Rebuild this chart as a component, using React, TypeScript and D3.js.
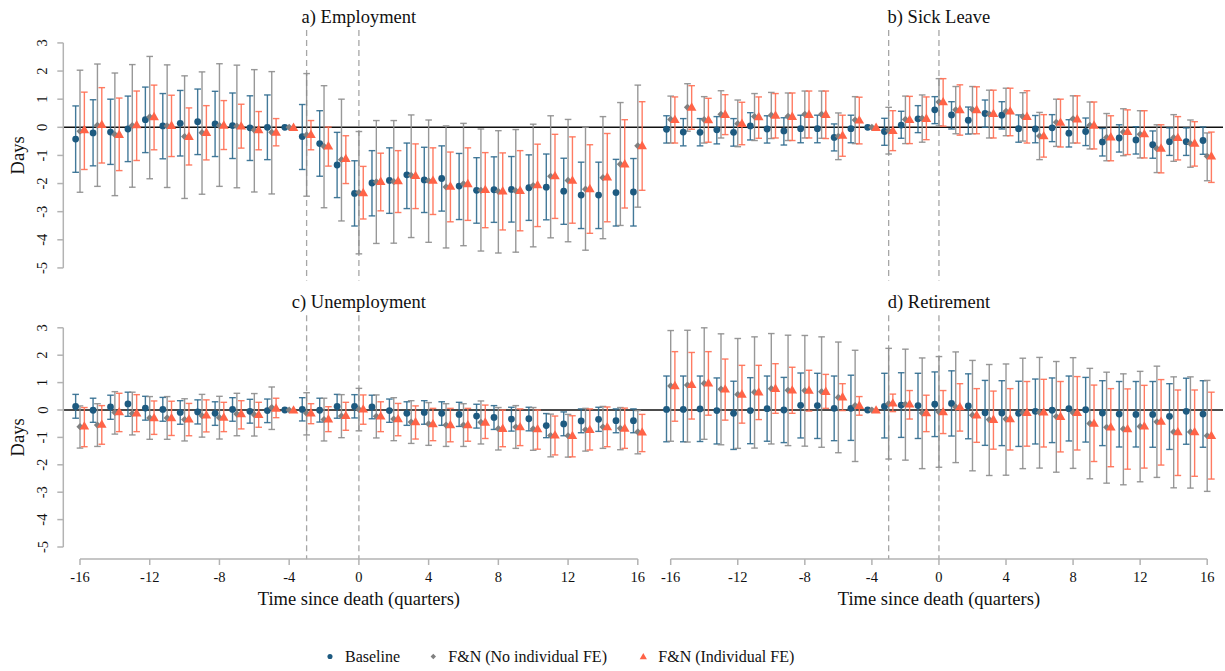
import React from "react";
import * as d3 from "d3";

// quarters relative to death
const quarters: number[] = d3.range(-16, 17);
const xTicks = [-16, -12, -8, -4, 0, 4, 8, 12, 16];
const yTicks = [3, 2, 1, 0, -1, -2, -3, -4, -5];
const eventLines = [-3, 0];
const seriesNames = ["Baseline", "F&N (No individual FE)", "F&N (Individual FE)"];

// [estimate, lower, upper] per quarter -16..16
const empBase = [[-0.42,-1.6,0.76],[-0.2,-1.37,0.98],[-0.17,-1.32,1.0],[-0.06,-1.22,1.11],[0.27,-0.9,1.43],[0.05,-1.12,1.2],[0.14,-1.02,1.31],[0.2,-0.97,1.36],[0.12,-1.04,1.28],[0.06,-1.11,1.22],[-0.02,-1.18,1.12],[0.0,-1.15,1.15],[0,0,0],[-0.33,-1.5,0.81],[-0.58,-1.74,0.59],[-1.34,-2.5,-0.18],[-2.35,-3.51,-1.19],[-1.98,-3.15,-0.83],[-1.89,-3.06,-0.73],[-1.69,-2.89,-0.56],[-1.87,-3.03,-0.71],[-1.82,-2.98,-0.66],[-2.09,-3.28,-0.93],[-2.24,-3.41,-1.08],[-2.22,-3.38,-1.05],[-2.21,-3.37,-1.04],[-2.15,-3.31,-0.98],[-2.13,-3.29,-0.95],[-2.27,-3.45,-1.1],[-2.41,-3.6,-1.24],[-2.41,-3.6,-1.24],[-2.32,-3.51,-1.14],[-2.3,-3.51,-1.11]];
const empFN = [[-0.14,-2.31,2.03],[0.07,-2.1,2.25],[-0.26,-2.43,1.93],[0.06,-2.13,2.23],[0.37,-1.83,2.52],[0.05,-2.14,2.22],[-0.33,-2.53,1.83],[-0.19,-2.38,1.97],[0.06,-2.1,2.26],[0.04,-2.15,2.21],[-0.1,-2.3,2.05],[-0.18,-2.37,1.98],[0,0,0],[-0.27,-2.45,1.91],[-0.68,-2.86,1.48],[-1.15,-3.33,1.0],[-2.32,-4.5,-0.15],[-1.94,-4.13,0.24],[-1.93,-4.12,0.24],[-1.71,-3.92,0.44],[-1.9,-4.09,0.26],[-2.12,-4.29,0.05],[-2.01,-4.21,0.14],[-2.24,-4.4,-0.06],[-2.28,-4.47,-0.12],[-2.26,-4.44,-0.08],[-2.07,-4.25,0.11],[-1.74,-3.93,0.41],[-1.89,-4.07,0.28],[-2.2,-4.37,0.0],[-1.79,-3.96,0.38],[-1.31,-3.49,0.88],[-0.66,-2.84,1.5]];
const empFE = [[-0.08,-1.5,1.25],[0.1,-1.27,1.41],[-0.25,-1.54,1.04],[0.09,-1.18,1.29],[0.38,-0.8,1.5],[0.07,-1.04,1.14],[-0.32,-1.34,0.69],[-0.18,-1.16,0.77],[0.08,-0.79,0.95],[0.05,-0.74,0.82],[-0.08,-0.8,0.56],[-0.17,-0.66,0.31],[0,0,0],[-0.25,-0.8,0.24],[-0.66,-1.38,0.01],[-1.11,-2.0,-0.3],[-2.32,-3.26,-1.39],[-1.92,-2.97,-0.92],[-1.9,-3.03,-0.83],[-1.71,-2.89,-0.59],[-1.88,-3.1,-0.73],[-2.09,-3.36,-0.88],[-2.0,-3.31,-0.73],[-2.21,-3.57,-0.9],[-2.26,-3.65,-0.91],[-2.24,-3.68,-0.83],[-2.04,-3.53,-0.6],[-1.72,-3.24,-0.25],[-1.88,-3.41,-0.34],[-2.18,-3.77,-0.62],[-1.76,-3.36,-0.22],[-1.3,-2.87,0.27],[-0.65,-2.24,0.91]];

const sickBase = [[-0.07,-0.56,0.41],[-0.17,-0.66,0.31],[-0.18,-0.66,0.31],[-0.09,-0.59,0.38],[-0.18,-0.67,0.31],[0.05,-0.45,0.52],[-0.06,-0.56,0.41],[-0.13,-0.63,0.34],[-0.05,-0.55,0.43],[-0.05,-0.55,0.43],[-0.36,-0.84,0.12],[-0.05,-0.55,0.43],[0,0,0],[-0.15,-0.64,0.32],[0.08,-0.39,0.57],[0.3,-0.19,0.77],[0.62,0.13,1.09],[0.44,-0.06,0.91],[0.25,-0.24,0.72],[0.49,0.0,0.97],[0.43,-0.06,0.91],[-0.05,-0.53,0.44],[-0.06,-0.55,0.42],[-0.02,-0.51,0.45],[-0.21,-0.7,0.27],[-0.15,-0.65,0.33],[-0.52,-1.02,-0.04],[-0.38,-0.88,0.09],[-0.45,-0.95,0.02],[-0.62,-1.1,-0.13],[-0.51,-1.0,-0.02],[-0.51,-1.0,-0.02],[-0.47,-0.96,0.01]];
const sickFN = [[0.28,-0.56,1.11],[0.71,-0.14,1.55],[0.27,-0.56,1.09],[0.46,-0.38,1.3],[0.13,-0.69,0.97],[0.38,-0.47,1.2],[0.43,-0.4,1.24],[0.39,-0.47,1.22],[0.46,-0.38,1.29],[0.46,-0.39,1.29],[-0.32,-1.15,0.51],[0.26,-0.58,1.09],[0,0,0],[-0.12,-0.95,0.71],[0.28,-0.58,1.11],[0.32,-0.53,1.15],[0.9,0.05,1.73],[0.62,-0.23,1.45],[0.63,-0.23,1.45],[0.47,-0.38,1.32],[0.57,-0.3,1.39],[0.38,-0.49,1.23],[-0.31,-1.15,0.53],[0.18,-0.68,1.0],[0.3,-0.56,1.12],[0.07,-0.77,0.9],[-0.36,-1.19,0.49],[-0.17,-1.01,0.66],[-0.25,-1.09,0.59],[-0.76,-1.61,0.09],[-0.37,-1.21,0.45],[-0.58,-1.42,0.26],[-1.03,-1.9,-0.2]];
const sickFE = [[0.28,-0.56,1.08],[0.72,-0.07,1.48],[0.27,-0.53,1.03],[0.46,-0.26,1.16],[0.14,-0.62,0.89],[0.38,-0.39,1.08],[0.43,-0.38,1.2],[0.39,-0.47,1.22],[0.46,-0.38,1.29],[0.46,-0.4,1.29],[-0.28,-1.03,0.43],[0.26,-0.59,1.07],[0,0,0],[-0.11,-0.83,0.59],[0.28,-0.58,1.1],[0.32,-0.44,1.08],[0.91,0.04,1.73],[0.63,-0.28,1.51],[0.63,-0.23,1.44],[0.49,-0.38,1.32],[0.58,-0.3,1.39],[0.39,-0.56,1.3],[-0.3,-1.06,0.45],[0.18,-0.7,1.0],[0.3,-0.56,1.12],[0.08,-0.77,0.9],[-0.34,-1.19,0.41],[-0.15,-0.97,0.62],[-0.23,-1.09,0.59],[-0.74,-1.62,0.09],[-0.36,-1.16,0.38],[-0.56,-1.38,0.2],[-1.02,-1.96,-0.17]];

const unempBase = [[0.13,-0.3,0.57],[-0.01,-0.45,0.43],[0.11,-0.34,0.54],[0.22,-0.23,0.65],[0.07,-0.37,0.5],[0.02,-0.41,0.46],[-0.09,-0.52,0.34],[-0.07,-0.51,0.37],[-0.12,-0.56,0.3],[0.02,-0.41,0.45],[-0.05,-0.48,0.39],[-0.02,-0.46,0.4],[0,0,0],[0.02,-0.4,0.45],[-0.01,-0.44,0.43],[0.13,-0.3,0.57],[0.13,-0.29,0.56],[0.11,-0.32,0.54],[-0.02,-0.45,0.4],[-0.12,-0.56,0.3],[-0.09,-0.52,0.34],[-0.12,-0.56,0.3],[-0.16,-0.6,0.28],[-0.22,-0.66,0.21],[-0.27,-0.71,0.16],[-0.33,-0.77,0.1],[-0.32,-0.76,0.1],[-0.57,-1.01,-0.13],[-0.51,-0.94,-0.07],[-0.4,-0.83,0.04],[-0.34,-0.78,0.1],[-0.39,-0.83,0.04],[-0.39,-0.83,0.04]];
const unempFN = [[-0.61,-1.39,0.15],[-0.55,-1.33,0.23],[-0.09,-0.88,0.67],[-0.13,-0.91,0.65],[-0.29,-1.07,0.49],[-0.29,-1.07,0.49],[-0.35,-1.13,0.41],[-0.21,-0.99,0.57],[-0.28,-1.06,0.5],[-0.15,-0.94,0.61],[-0.17,-0.95,0.6],[0.09,-0.71,0.84],[0,0,0],[-0.12,-0.91,0.63],[-0.35,-1.13,0.43],[-0.22,-1.01,0.56],[0.02,-0.76,0.79],[-0.23,-1.02,0.55],[-0.33,-1.12,0.45],[-0.44,-1.22,0.34],[-0.51,-1.29,0.27],[-0.55,-1.33,0.23],[-0.55,-1.33,0.23],[-0.45,-1.24,0.33],[-0.68,-1.46,0.09],[-0.62,-1.4,0.16],[-0.69,-1.47,0.09],[-0.93,-1.71,-0.15],[-0.94,-1.72,-0.16],[-0.72,-1.5,0.06],[-0.62,-1.4,0.13],[-0.67,-1.45,0.09],[-0.8,-1.6,-0.02]];
const unempFE = [[-0.58,-1.34,0.09],[-0.52,-1.25,0.16],[-0.06,-0.79,0.61],[-0.11,-0.79,0.56],[-0.28,-0.89,0.33],[-0.28,-0.93,0.32],[-0.33,-0.94,0.24],[-0.18,-0.8,0.37],[-0.26,-0.79,0.28],[-0.13,-0.69,0.34],[-0.16,-0.63,0.28],[0.07,-0.28,0.43],[0,0,0],[-0.11,-0.5,0.23],[-0.33,-0.79,0.12],[-0.2,-0.74,0.28],[0.04,-0.52,0.55],[-0.22,-0.79,0.3],[-0.32,-0.94,0.24],[-0.43,-1.06,0.15],[-0.5,-1.12,0.06],[-0.54,-1.16,0.06],[-0.54,-1.14,0.06],[-0.44,-1.04,0.18],[-0.67,-1.34,0.0],[-0.61,-1.3,0.04],[-0.68,-1.43,0.0],[-0.91,-1.64,-0.22],[-0.93,-1.71,-0.21],[-0.71,-1.46,0.04],[-0.61,-1.34,0.11],[-0.66,-1.4,0.07],[-0.8,-1.52,-0.16]];

const retBase = [[0.02,-1.16,1.24],[0.02,-1.16,1.24],[0.04,-1.15,1.24],[-0.02,-1.24,1.17],[-0.12,-1.44,1.05],[-0.02,-1.23,1.18],[0.05,-1.14,1.24],[0.0,-1.19,1.19],[0.17,-1.02,1.35],[0.16,-1.04,1.34],[0.06,-1.12,1.24],[0.06,-1.11,1.27],[0,0,0],[0.13,-1.02,1.34],[0.18,-1.0,1.36],[0.16,-1.04,1.34],[0.21,-0.97,1.39],[0.24,-0.95,1.43],[0.15,-1.05,1.32],[-0.1,-1.29,1.08],[-0.11,-1.3,1.07],[-0.12,-1.33,1.05],[-0.05,-1.24,1.13],[-0.01,-1.19,1.17],[0.05,-1.13,1.24],[0.01,-1.17,1.19],[-0.11,-1.3,1.07],[-0.15,-1.35,1.04],[-0.16,-1.35,1.04],[-0.16,-1.36,1.04],[-0.23,-1.44,0.96],[-0.05,-1.25,1.16],[-0.15,-1.36,1.07]];
const retFN = [[0.88,-1.14,2.9],[0.91,-1.17,2.91],[0.97,-1.07,3.0],[0.76,-1.27,2.78],[0.57,-1.4,2.61],[0.65,-1.39,2.67],[0.78,-1.24,2.79],[0.72,-1.3,2.73],[0.71,-1.32,2.72],[0.67,-1.36,2.67],[0.46,-1.56,2.48],[0.16,-1.88,2.18],[0,0,0],[0.23,-1.79,2.25],[0.21,-1.83,2.22],[-0.11,-2.14,1.9],[-0.07,-2.09,1.95],[0.11,-1.92,2.12],[-0.19,-2.22,1.81],[-0.35,-2.39,1.66],[-0.33,-2.38,1.68],[-0.1,-2.14,1.89],[-0.09,-2.12,1.92],[-0.24,-2.27,1.77],[-0.1,-2.13,1.91],[-0.49,-2.51,1.52],[-0.63,-2.67,1.38],[-0.69,-2.73,1.32],[-0.6,-2.62,1.41],[-0.43,-2.46,1.6],[-0.8,-2.84,1.21],[-0.8,-2.85,1.21],[-0.94,-2.97,1.08]];
const retFE = [[0.89,-0.41,2.13],[0.93,-0.33,2.1],[0.99,-0.19,2.13],[0.77,-0.37,1.86],[0.58,-0.48,1.63],[0.66,-0.35,1.63],[0.79,-0.12,1.69],[0.73,-0.12,1.56],[0.72,-0.04,1.45],[0.68,0.06,1.3],[0.48,-0.02,0.96],[0.17,-0.19,0.49],[0,0,0],[0.26,-0.06,0.58],[0.22,-0.33,0.71],[-0.1,-0.79,0.54],[-0.06,-0.86,0.71],[0.12,-0.77,0.96],[-0.18,-1.18,0.78],[-0.34,-1.43,0.69],[-0.32,-1.46,0.78],[-0.09,-1.32,1.04],[-0.07,-1.35,1.12],[-0.23,-1.53,1.04],[-0.09,-1.46,1.22],[-0.48,-1.88,0.91],[-0.62,-2.07,0.78],[-0.68,-2.16,0.77],[-0.58,-2.12,0.9],[-0.41,-2.01,1.11],[-0.79,-2.39,0.73],[-0.79,-2.42,0.73],[-0.93,-2.52,0.65]];

const BLUE = "#1d5a80";
const GREY = "#808080";
const ORANGE = "#ff6347";
const AXIS = "#b3b3b3";
const FONT = "'Liberation Serif', 'Times New Roman', serif";

const colors = [BLUE, GREY, ORANGE];
const barColors = ["#2f6a8e", "#8d8d8d", "#ff6e52"];
const offsets = [-0.25, 0, 0.25];

type Row = { y0: number; unit: number };
const rows: Row[] = [
  { y0: 127.3, unit: 28.125 },
  { y0: 410, unit: 27.4 },
];
const cols = [
  { x16: 80, x16r: 637.8, zl: 63, zr: 655 },
  { x16: 670.7, x16r: 1207.2, zl: 655, zr: 1223 },
];

const panels = [
  { title: "a) Employment", row: 0, col: 0, series: [empBase, empFN, empFE] },
  { title: "b) Sick Leave", row: 0, col: 1, series: [sickBase, sickFN, sickFE] },
  { title: "c) Unemployment", row: 1, col: 0, series: [unempBase, unempFN, unempFE] },
  { title: "d) Retirement", row: 1, col: 1, series: [retBase, retFN, retFE] },
];

function Marker({ kind, x, y, s = 1 }: { kind: number; x: number; y: number; s?: number }) {
  if (kind === 0) return <circle cx={x} cy={y} r={3.4 * s} fill={BLUE} />;
  if (kind === 1) {
    const r = 3.6 * s;
    return <path d={`M${x},${y - r}L${x + r},${y}L${x},${y + r}L${x - r},${y}Z`} fill={GREY} />;
  }
  const sym = d3.symbol().type(d3.symbolTriangle).size(40 * s * s)();
  return <path d={sym || ""} transform={`translate(${x},${y + 0.8 * s})`} fill={ORANGE} />;
}

function Panel({ p }: { p: (typeof panels)[number] }) {
  const r = rows[p.row];
  const c = cols[p.col];
  const x = d3.scaleLinear().domain([-16, 16]).range([c.x16, c.x16r]);
  const y = d3.scaleLinear().domain([-5, 3]).range([r.y0 + 5 * r.unit, r.y0 - 3 * r.unit]);
  const yTop = y(3.46);
  const yBot = y(-5.45);
  const cx = (x(-16) + x(16)) / 2;
  const cap = 3.3;
  return (
    <g>
      <text x={cx} y={p.row === 0 ? 23 : 308} textAnchor="middle" fontFamily={FONT} fontSize={18.5} fill="#111">
        {p.title}
      </text>
      {eventLines.map((e) => (
        <line key={e} x1={x(e)} x2={x(e)} y1={yTop} y2={yBot} stroke="#a6a6a6" strokeWidth={1.3} strokeDasharray="6,4" />
      ))}
      <line x1={c.zl} x2={c.zr} y1={y(0)} y2={y(0)} stroke="#111" strokeWidth={1.5} />
      {p.series.map((s, si) => (
        <g key={"b" + si}>
          {s.map((d, i) => {
            const q = quarters[i];
            if (d[1] === d[2]) return null;
            const xx = x(q + offsets[si]);
            return (
              <g key={i} stroke={barColors[si]} strokeWidth={1.4} strokeOpacity={0.9}>
                <line x1={xx} x2={xx} y1={y(d[1])} y2={y(d[2])} />
                <line x1={xx - cap} x2={xx + cap} y1={y(d[1])} y2={y(d[1])} />
                <line x1={xx - cap} x2={xx + cap} y1={y(d[2])} y2={y(d[2])} />
              </g>
            );
          })}
        </g>
      ))}
      {p.series.map((s, si) => (
        <g key={"m" + si}>
          {s.map((d, i) => (
            <Marker key={i} kind={si} x={x(quarters[i] + offsets[si])} y={y(d[0])} />
          ))}
        </g>
      ))}
      {p.col === 0 && (
        <g>
          <line x1={63.3} x2={63.3} y1={y(3)} y2={y(-5)} stroke={AXIS} strokeWidth={1.5} />
          {yTicks.map((t) => (
            <g key={t}>
              <line x1={57.3} x2={63.3} y1={y(t)} y2={y(t)} stroke={AXIS} strokeWidth={1.5} />
              <text
                x={47.5}
                y={y(t)}
                transform={`rotate(-90, 47.5, ${y(t)})`}
                textAnchor="middle"
                fontFamily={FONT}
                fontSize={14.5}
                fill="#111"
              >
                {t}
              </text>
            </g>
          ))}
          <text
            x={24.5}
            y={(y(3) + y(-5)) / 2}
            transform={`rotate(-90, 24.5, ${(y(3) + y(-5)) / 2})`}
            textAnchor="middle"
            fontFamily={FONT}
            fontSize={18.5}
            fill="#111"
          >
            Days
          </text>
        </g>
      )}
      {p.row === 1 && (
        <g>
          <line x1={x(-16)} x2={x(16)} y1={559} y2={559} stroke={AXIS} strokeWidth={1.5} />
          {xTicks.map((t) => (
            <g key={t}>
              <line x1={x(t)} x2={x(t)} y1={559} y2={565} stroke={AXIS} strokeWidth={1.5} />
              <text x={x(t)} y={582} textAnchor="middle" fontFamily={FONT} fontSize={14.5} fill="#111">
                {t}
              </text>
            </g>
          ))}
          <text x={cx} y={605} textAnchor="middle" fontFamily={FONT} fontSize={18.5} fill="#111">
            Time since death (quarters)
          </text>
        </g>
      )}
    </g>
  );
}

const legendX = [330, 433.3, 643.3];

export default function App() {
  return (
    <svg
      width={1225}
      height={671}
      style={{ position: "absolute", left: 0, top: 0, background: "#fff" }}
      xmlns="http://www.w3.org/2000/svg"
    >
      <rect width={1225} height={671} fill="#fff" />
      {panels.map((p) => (
        <Panel key={p.title} p={p} />
      ))}
      <g>
        {seriesNames.map((n, i) => (
          <g key={n}>
            <Marker kind={i} x={legendX[i]} y={656.5} s={0.75} />
            <text x={legendX[i] + 15} y={662} fontFamily={FONT} fontSize={16} fill="#111">
              {n}
            </text>
          </g>
        ))}
      </g>
    </svg>
  );
}
